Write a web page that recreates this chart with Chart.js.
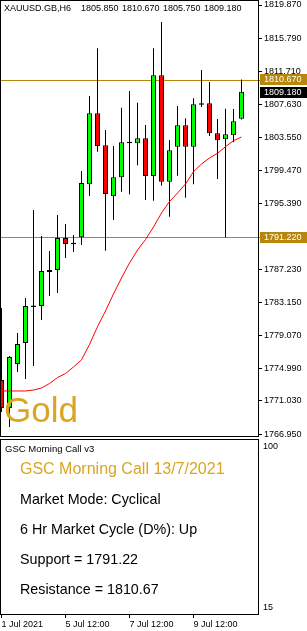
<!DOCTYPE html>
<html>
<head>
<meta charset="utf-8">
<script src="https://cdn.jsdelivr.net/npm/chart.js@4.4.1/dist/chart.umd.min.js"></script>
<style>
  html, body { margin: 0; padding: 0; background: #fff; }
  body { width: 307px; height: 631px; position: relative; overflow: hidden;
         font-family: 'Liberation Sans', Arial, sans-serif; }
  canvas { position: absolute; left: 0; }
  #mainChart { top: 0; }
  #subChart  { top: 438px; }
  .txt { position: absolute; white-space: pre; line-height: 1; color: #000; }
  .hdr { top: 4px; font-size: 9px; }
  #goldTag { left: 4px; top: 392px; font-size: 35px; color: #DAA520; }
  #subName { left: 5px; top: 444px; font-size: 9.5px; }
  #subTitle { left: 20px; top: 461px; font-size: 16px; color: #DAA520; }
  .info { left: 20px; font-size: 14.3px; }
</style>
</head>
<body>
<canvas id="mainChart" width="307" height="440"></canvas>
<canvas id="subChart" width="307" height="193"></canvas>

<div class="txt hdr" style="left:4px">XAUUSD.GB,H6</div>
<div class="txt hdr" id="hO" style="left:81px"></div>
<div class="txt hdr" id="hH" style="left:122px"></div>
<div class="txt hdr" id="hL" style="left:163px"></div>
<div class="txt hdr" id="hC" style="left:204px"></div>
<div class="txt" id="goldTag">Gold</div>

<div class="txt" id="subName">GSC Morning Call v3</div>
<div class="txt" id="subTitle">GSC Morning Call 13/7/2021</div>
<div class="txt info" style="top:492px">Market Mode: Cyclical</div>
<div class="txt info" style="top:522px">6 Hr Market Cycle (D%): Up</div>
<div class="txt info" id="supTxt" style="top:552px"></div>
<div class="txt info" id="resTxt" style="top:582px"></div>

<script>
// XAUUSD H6 candles (oldest -> newest)
const opens  = [1773.61, 1770.16, 1775.59, 1778.18, 1782.80, 1782.74, 1786.94, 1787.18, 1791.13, 1790.55,
                1791.22, 1797.75, 1806.51, 1802.56, 1796.27, 1798.62, 1803.00, 1802.81, 1803.43, 1798.78,
                1811.20, 1798.07, 1802.39, 1805.03, 1802.39, 1807.75, 1807.74, 1804.04, 1803.31, 1803.80,
                1805.85];
const highs  = [1782.49, 1776.57, 1779.41, 1783.73, 1794.58, 1791.38, 1789.53, 1793.97, 1792.86, 1791.50,
                1799.39, 1808.65, 1814.53, 1804.45, 1802.48, 1807.20, 1809.26, 1807.82, 1805.07, 1814.53,
                1817.77, 1803.22, 1807.41, 1805.89, 1808.36, 1811.85, 1810.37, 1805.81, 1807.08, 1807.04,
                1810.67];
const lows   = [1769.67, 1767.82, 1774.60, 1773.74, 1775.34, 1781.00, 1783.97, 1784.35, 1788.66, 1789.40,
                1790.27, 1796.31, 1801.77, 1789.56, 1793.35, 1796.84, 1796.52, 1800.10, 1795.82, 1795.73,
                1797.58, 1793.76, 1798.81, 1796.10, 1797.75, 1807.29, 1803.71, 1798.41, 1791.22, 1802.93,
                1805.75];
const closes = [1770.16, 1776.45, 1778.05, 1782.74, 1782.62, 1787.06, 1787.18, 1791.13, 1790.39, 1790.37,
                1797.91, 1806.51, 1802.48, 1796.56, 1798.62, 1802.93, 1802.82, 1803.43, 1798.78, 1811.20,
                1798.07, 1801.95, 1805.03, 1802.39, 1807.62, 1807.57, 1804.04, 1803.18, 1803.92, 1805.52,
                1809.18];
// red moving average
const maValues = [1772.26, 1772.26, 1772.26, 1772.26, 1772.38, 1772.63, 1773.18, 1773.92, 1774.41, 1775.22,
                  1776.10, 1778.00, 1780.19, 1782.13, 1784.23, 1786.20, 1788.05, 1789.65, 1790.94, 1792.49,
                  1794.21, 1795.63, 1796.68, 1797.79, 1799.31, 1800.26, 1801.00, 1801.58, 1802.39, 1803.13,
                  1803.59];

const priceTicks = [1819.87, 1815.79, 1811.71, 1807.63, 1803.55, 1799.47, 1795.39,
                    1787.23, 1783.15, 1779.07, 1774.99, 1771.03, 1766.95];
const dateTickBars   = [0, 8, 16, 24];
const dateTickLabels = ['1 Jul 2021', '5 Jul 12:00', '7 Jul 12:00', '9 Jul 12:00'];
const subTicks = [100, 15];

const supportLevel    = 1791.22;
const resistanceLevel = 1810.67;

const LEVEL_COLOR = '#B8860B';
const FONT = 'Liberation Sans';

// header + panel texts
const last = opens.length - 1;
document.getElementById('hO').textContent = opens[last].toFixed(3);
document.getElementById('hH').textContent = highs[last].toFixed(3);
document.getElementById('hL').textContent = lows[last].toFixed(3);
document.getElementById('hC').textContent = closes[last].toFixed(3);
document.getElementById('supTxt').textContent = 'Support = ' + supportLevel.toFixed(2);
document.getElementById('resTxt').textContent = 'Resistance = ' + resistanceLevel.toFixed(2);

// x: bar i sits at 1.5 + 8*i px inside a 258px wide plot
const X_MIN = -0.1875, X_MAX = 32.0625;

// keep axis from pushing the plot area in
function fixAxis(width, height) {
  return s => {
    if (width) s.width = width;
    if (height) s.height = height;
    s.paddingTop = 0; s.paddingBottom = 0;
    s.paddingLeft = 0; s.paddingRight = 0;
  };
}

// ---------- plugins ----------
const framePlugin = {
  id: 'frame',
  afterDraw(chart) {
    const { ctx, chartArea: a } = chart;
    ctx.save();
    ctx.strokeStyle = '#000';
    ctx.lineWidth = 1;
    ctx.strokeRect(a.left + 0.5, a.top + 0.5, a.right - a.left, a.bottom - a.top - 1);
    ctx.restore();
  }
};

const levelPlugin = {
  id: 'levels',
  beforeDatasetsDraw(chart) {
    const { ctx, chartArea: a, scales: { y } } = chart;
    ctx.save();
    ctx.strokeStyle = LEVEL_COLOR;
    ctx.lineWidth = 1;
    [resistanceLevel, supportLevel].forEach(v => {
      const py = Math.round(y.getPixelForValue(v)) + 0.5;
      ctx.beginPath();
      ctx.moveTo(a.left, py);
      ctx.lineTo(a.right + 2, py);
      ctx.stroke();
    });
    ctx.restore();
  },
  afterDraw(chart) {
    const { ctx, chartArea: a, scales: { y } } = chart;
    const tags = [
      { v: resistanceLevel, bg: LEVEL_COLOR, dy: 0 },
      { v: closes[last],    bg: '#000',      dy: 1 },
      { v: supportLevel,    bg: LEVEL_COLOR, dy: 0 }
    ];
    ctx.save();
    ctx.font = '9px "' + FONT + '"';
    ctx.textBaseline = 'middle';
    tags.forEach(t => {
      const mid = y.getPixelForValue(t.v) + t.dy;
      const top = Math.round(mid - 5.5);
      ctx.fillStyle = t.bg;
      ctx.fillRect(a.right + 2, top, chart.width - a.right - 2, 11);
      ctx.fillStyle = '#fff';
      ctx.fillText(t.v.toFixed(3), a.right + 6, top + 5.5);
    });
    ctx.restore();
  }
};

// ---------- main candle chart ----------
const bars = opens.map((_, i) => i);

new Chart(document.getElementById('mainChart'), {
  type: 'bar',
  data: {
    datasets: [
      {
        type: 'line',
        data: bars.map(i => ({ x: i, y: maValues[i] })),
        borderColor: '#ff0000',
        borderWidth: 1,
        pointRadius: 0,
        tension: 0,
        order: 0
      },
      {
        data: bars.map(i => ({ x: i, y: [opens[i], closes[i]] })),
        backgroundColor: bars.map(i => closes[i] >= opens[i] ? '#00ff00' : '#ff0000'),
        borderColor: '#000',
        borderWidth: 1,
        borderSkipped: false,
        inflateAmount: 0,
        grouped: false,
        maxBarThickness: 5,
        order: 1
      },
      {
        data: bars.map(i => ({ x: i, y: [lows[i], highs[i]] })),
        backgroundColor: '#000',
        borderWidth: 0,
        inflateAmount: 0,
        grouped: false,
        maxBarThickness: 1,
        order: 2
      }
    ]
  },
  options: {
    responsive: false,
    animation: false,
    events: [],
    layout: { padding: { top: 0, left: 0, right: 0, bottom: 3 } },
    plugins: { legend: { display: false }, tooltip: { enabled: false } },
    scales: {
      x: {
        type: 'linear', display: false, offset: false,
        min: X_MIN, max: X_MAX
      },
      y: {
        type: 'linear', position: 'right', bounds: 'data',
        min: 1766.583, max: 1820.487,
        afterBuildTicks: s => { s.ticks = priceTicks.map(v => ({ value: v })); },
        afterFit: fixAxis(49, 0),
        grid: { drawOnChartArea: false, drawTicks: true, tickLength: 4, color: '#000' },
        border: { display: false },
        ticks: {
          autoSkip: false, padding: 2, color: '#000',
          font: { family: FONT, size: 9 },
          callback: v => v.toFixed(3)
        }
      }
    }
  },
  plugins: [levelPlugin, framePlugin]
});

// ---------- indicator sub window + time axis ----------
new Chart(document.getElementById('subChart'), {
  type: 'line',
  data: { datasets: [{ data: [] }] },
  options: {
    responsive: false,
    animation: false,
    events: [],
    layout: { padding: { top: 1, left: 0, right: 0, bottom: 0 } },
    plugins: { legend: { display: false }, tooltip: { enabled: false } },
    scales: {
      x: {
        type: 'linear', position: 'bottom', offset: false, bounds: 'data',
        min: X_MIN, max: X_MAX,
        afterBuildTicks: s => { s.ticks = dateTickBars.map(v => ({ value: v })); },
        afterFit: fixAxis(0, 16),
        grid: { drawOnChartArea: false, drawTicks: true, tickLength: 3, color: '#000' },
        border: { display: false },
        ticks: {
          autoSkip: false, maxRotation: 0, align: 'start', padding: 1, color: '#000',
          font: { family: FONT, size: 9 },
          callback: v => dateTickLabels[dateTickBars.indexOf(v)]
        }
      },
      y: {
        type: 'linear', position: 'right', bounds: 'data',
        min: 11.30, max: 104.22,
        afterBuildTicks: s => { s.ticks = subTicks.map(v => ({ value: v })); },
        afterFit: fixAxis(49, 0),
        grid: { drawOnChartArea: false, drawTicks: false },
        border: { display: false },
        ticks: {
          autoSkip: false, padding: 5, color: '#000',
          font: { family: FONT, size: 9 },
          callback: v => String(v)
        }
      }
    }
  },
  plugins: [framePlugin]
});
</script>
</body>
</html>
